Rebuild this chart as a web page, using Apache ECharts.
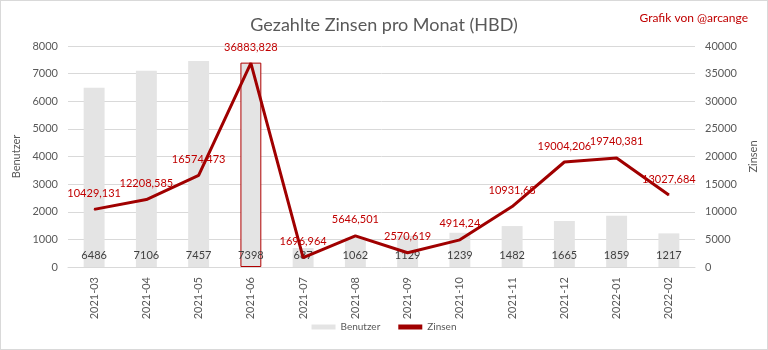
<!DOCTYPE html>
<html><head><meta charset="utf-8">
<script src="https://cdn.jsdelivr.net/npm/echarts@6/dist/echarts.min.js"></script>
<style>html,body{margin:0;padding:0;background:#fff}#c{width:768px;height:350px;box-sizing:border-box;border:1px solid #d9d9d9}</style>
</head><body><div id="c"></div>
<script>
const categories = ['2021-03','2021-04','2021-05','2021-06','2021-07','2021-08','2021-09','2021-10','2021-11','2021-12','2022-01','2022-02'];
const benutzer = [6486,7106,7457,7398,687,1062,1129,1239,1482,1665,1859,1217];
const zinsen = [10429.131,12208.585,16574.473,36883.828,1696.964,5646.501,2570.619,4914.24,10931.68,19004.206,19740.381,13027.684];
const highlightIndex = 3;

const FONT = 'Lato, "Open Sans", sans-serif';
const chart = echarts.init(document.getElementById('c'));
chart.setOption({
  animation: false,
  textStyle: {fontFamily: FONT},
  title: [
    {text: 'Gezahlte Zinsen pro Monat (HBD)', left: 'center', top: 10,
     textStyle: {fontFamily: FONT, fontSize: 18, fontWeight: 'normal', color: '#595959'}},
    {text: 'Grafik von @arcange', right: 14, top: 6,
     textStyle: {fontFamily: FONT, fontSize: 12, fontWeight: 'normal', color: '#c00000'}}
  ],
  grid: {left: 67, right: 72, top: 45, bottom: 82},
  legend: {
    bottom: 12, left: 'center', itemGap: 18,
    textStyle: {fontFamily: FONT, fontSize: 10, color: '#595959'},
    data: [
      {name: 'Benutzer', icon: 'rect', itemStyle: {color: '#e4e4e4'}},
      {name: 'Zinsen', icon: 'rect', itemHeight: 3, itemStyle: {color: '#a00000'}}
    ],
    itemWidth: 24, itemHeight: 5
  },
  xAxis: {
    type: 'category', data: categories,
    axisLine: {lineStyle: {color: '#d9d9d9'}},
    axisTick: {show: false},
    axisLabel: {rotate: 90, color: '#595959', fontSize: 11, fontFamily: FONT, margin: 10}
  },
  yAxis: [
    {type: 'value', min: 0, max: 8000, interval: 1000,
     name: 'Benutzer', nameLocation: 'middle', nameGap: 40, nameRotate: 90,
     nameTextStyle: {color: '#595959', fontSize: 11, fontFamily: FONT},
     axisLabel: {color: '#595959', fontSize: 11, fontFamily: FONT, margin: 10, formatter: v => String(v)},
     axisLine: {show: false}, axisTick: {show: false},
     splitLine: {lineStyle: {color: '#d9d9d9'}}},
    {type: 'value', min: 0, max: 40000, interval: 5000,
     name: 'Zinsen', nameLocation: 'middle', nameGap: 45, nameRotate: 90,
     nameTextStyle: {color: '#595959', fontSize: 11, fontFamily: FONT},
     axisLabel: {color: '#595959', fontSize: 11, fontFamily: FONT, margin: 10, formatter: v => String(v)},
     axisLine: {show: false}, axisTick: {show: false},
     splitLine: {show: false}}
  ],
  series: [
    {name: 'Benutzer', type: 'bar', yAxisIndex: 0, barWidth: '40%',
     data: benutzer.map((v, i) => i === highlightIndex
        ? {value: v, itemStyle: {color: '#e4e4e4', borderColor: '#b00000', borderWidth: 1}}
        : v),
     itemStyle: {color: '#e4e4e4'},
     label: {show: true, position: 'insideBottom', distance: 6, color: '#404040', fontSize: 11, fontFamily: FONT}},
    {name: 'Zinsen', type: 'line', yAxisIndex: 1, data: zinsen,
     symbol: 'circle', symbolSize: 1, showSymbol: true,
     lineStyle: {color: '#a00000', width: 3}, itemStyle: {color: '#a00000'},
     z: 5,
     label: {show: true, position: 'top', distance: 10, color: '#c00000', fontSize: 11, fontFamily: FONT,
       formatter: p => String(p.value).replace('.', ',')}}
  ]
});
</script></body></html>
